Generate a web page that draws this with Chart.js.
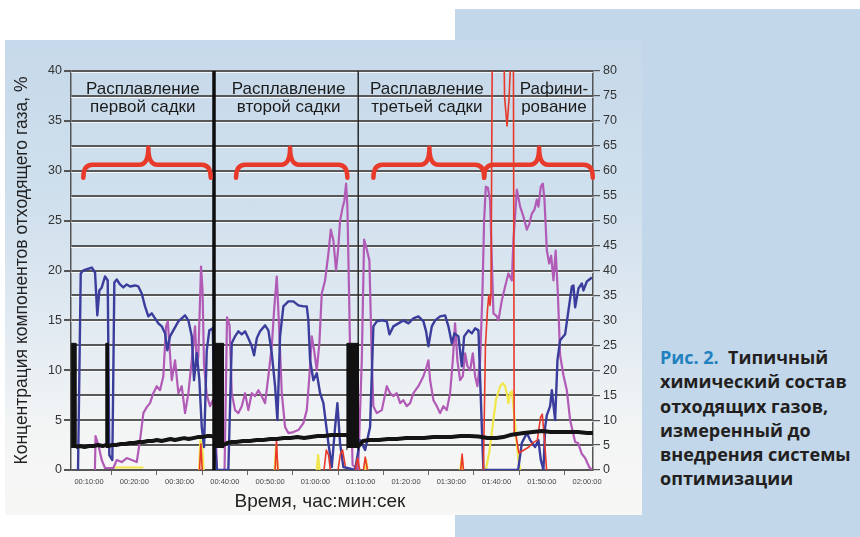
<!DOCTYPE html>
<html><head><meta charset="utf-8">
<script src="https://cdn.jsdelivr.net/npm/chart.js@4.4.1/dist/chart.umd.min.js"></script>
<style>
html,body{margin:0;padding:0;background:#fff;width:860px;height:537px;overflow:hidden;}
#blue{position:absolute;left:455px;top:9px;width:405px;height:528px;background:#c2d7ea;}
#panel{position:absolute;left:5px;top:40px;width:637px;height:475px;
 background:linear-gradient(to bottom,#c6d9ea 0%,#d0e0ed 35%,#e3ebf2 62%,#f3f5f5 82%,#f7f7f5 100%);}
#cap{position:absolute;left:660px;top:345px;font-family:'Open Sans',sans-serif;font-weight:700;font-size:18px;line-height:24.3px;color:#231f20;white-space:nowrap;}
#cap .n{color:#2281bf;}
#wrap{position:absolute;left:0;top:0;width:860px;height:537px;}
</style></head>
<body>
<div id="blue"></div><div id="panel"></div>
<div id="cap"><span class="n">Рис. 2.</span>&nbsp; Типичный<br>химический состав<br>отходящих газов,<br>измеренный до<br>внедрения системы<br>оптимизации</div>
<div id="wrap"><canvas id="c" width="860" height="537"></canvas></div>
<script>
// time in minutes, values in % (left axis)
const xTickValues = [10,15,20,25,30,35,40,45,50,55,60,65,70,75,80,85,90,95,100,105,110,115,120];
const rightTicks = [0,5,10,15,20,25,30,35,40,45,50,55,60,65,70,75,80];

const blue = [[7.3,0],[7.57,0],[8.17,19.7],[8.74,20.0],[10.6,20.3],[11.33,19.8],[11.83,15.5],[12.28,18.0],[12.81,18.3],[13.53,19.4],[14.13,19.0],[14.48,1.5],[15.15,1.0],[15.59,18.8],[16.12,19.1],[16.85,18.6],[17.58,18.3],[18.33,18.6],[19.06,18.4],[20.16,18.5],[20.89,18.4],[21.64,17.7],[22.37,16.4],[23.1,15.4],[23.85,15.7],[24.58,15.2],[25.31,14.7],[26.06,14.4],[26.79,13.7],[27.3,12.0],[27.89,13.4],[28.62,14.0],[29.73,14.9],[31.21,15.5],[31.94,15.0],[32.69,13.4],[33.19,9.0],[33.79,11.7],[34.37,9.0],[34.9,4.3],[35.4,2.3],[36.0,12.0],[36.57,14.0],[37.33,14.2],[37.94,2.0],[38.27,0],[40.77,0],[41.52,12.7],[42.25,13.4],[42.98,13.9],[43.73,13.6],[44.46,13.9],[45.19,13.2],[45.94,12.4],[46.45,11.5],[47.05,13.2],[47.77,13.9],[48.88,14.5],[49.61,14.0],[50.36,11.7],[51.09,8.4],[51.6,5.0],[52.19,13.4],[52.92,16.4],[54.03,16.9],[55.13,16.9],[56.23,16.5],[57.34,16.4],[58.09,16.4],[58.44,15.0],[58.82,11.0],[59.55,9.0],[60.3,9.7],[61.03,7.7],[61.76,6.7],[62.86,2.7],[63.61,0.3],[64.34,4.3],[64.85,6.7],[65.44,2.7],[66.17,0.3],[68.76,0],[69.86,3.0],[70.97,2.0],[72.07,4.3],[72.8,14.4],[73.55,14.9],[74.66,15.0],[75.76,14.9],[76.34,13.6],[77.22,14.4],[78.33,14.7],[79.43,15.0],[80.54,14.7],[81.64,15.2],[82.74,15.4],[83.85,14.9],[84.44,13.9],[84.95,12.4],[85.7,14.4],[86.43,15.0],[87.53,15.4],[88.64,15.5],[89.37,14.4],[90.12,12.7],[90.7,13.7],[91.58,13.4],[92.33,10.4],[92.84,13.4],[93.79,14.0],[94.54,13.7],[95.27,14.2],[96.0,14.0],[96.75,4.3],[97.1,0],[104.77,0],[105.58,2.7],[106.69,3.7],[107.42,3.0],[108.52,2.3],[109.25,3.0],[109.78,1.0],[110.36,0],[110.73,4.3],[111.11,5.5],[111.83,6.4],[112.21,8.0],[112.94,5.0],[113.45,11.0],[114.04,13.0],[115.14,13.6],[115.88,16.0],[116.63,18.4],[116.98,18.5],[117.36,16.3],[118.09,18.2],[118.84,18.7],[119.19,18.0],[119.94,18.9],[121.05,19.3]];

const magenta = [[11.3,0],[11.44,3.4],[12.05,2.5],[12.81,1.0],[13.53,0.2],[15.37,0.2],[16.12,1.0],[17.22,0.8],[18.33,1.2],[19.43,1.0],[20.54,0.8],[21.27,3.0],[22.0,5.7],[22.75,6.3],[23.47,6.7],[24.2,7.7],[24.96,8.4],[25.68,8.0],[26.41,9.4],[27.01,14.4],[27.4,14.9],[28.27,9.0],[29.0,11.0],[29.73,7.7],[30.48,8.4],[31.21,5.7],[31.94,7.7],[32.69,11.0],[33.42,14.4],[33.79,10.4],[34.14,11.4],[34.74,20.4],[35.07,18.0],[35.4,10.5],[36.0,7.5],[36.73,6.4],[37.33,7.0],[37.72,6.5],[38.27,0],[39.93,0],[40.48,15.3],[41.04,14.5],[41.52,7.7],[42.25,6.0],[42.98,5.7],[43.73,6.4],[44.46,7.7],[45.19,6.0],[45.94,7.7],[46.67,7.4],[47.4,8.0],[48.15,7.4],[48.88,6.7],[49.61,9.4],[50.36,12.4],[50.87,16.0],[51.46,19.4],[51.97,14.4],[52.57,7.7],[53.3,4.3],[54.03,3.7],[55.13,3.8],[56.23,4.0],[57.34,4.7],[58.09,6.0],[58.67,9.4],[59.2,13.4],[59.71,12.0],[60.3,10.0],[60.87,12.7],[61.4,17.7],[62.13,19.0],[62.86,21.7],[63.39,24.1],[63.97,23.0],[64.56,20.0],[65.07,22.4],[65.44,25.0],[66.04,26.4],[66.39,27.0],[66.77,28.7],[67.06,26.4],[67.43,17.7],[67.81,7.7],[68.21,0.5],[69.42,0],[70.24,11.0],[70.75,23.1],[71.35,22.1],[71.92,21.0],[72.45,11.0],[72.8,6.4],[73.55,5.7],[74.66,6.0],[75.76,8.4],[76.49,7.7],[77.22,7.4],[77.97,7.7],[78.7,6.7],[79.43,7.0],[80.17,6.4],[80.91,6.7],[81.64,7.7],[82.74,8.4],[83.85,9.4],[84.59,10.4],[84.95,11.0],[85.33,9.0],[86.06,7.0],[86.81,6.4],[87.53,5.7],[88.26,6.4],[89.0,6.0],[89.74,7.7],[90.34,11.0],[90.84,14.7],[91.35,11.0],[91.95,9.0],[92.55,9.4],[93.06,11.7],[93.57,10.4],[94.16,10.0],[94.76,11.7],[95.27,9.4],[95.78,8.4],[96.37,11.0],[96.88,17.7],[97.26,25.1],[97.63,28.4],[98.07,28.3],[98.58,27.0],[98.96,21.0],[99.31,15.7],[100.06,15.4],[100.42,15.0],[101.16,17.0],[101.89,18.4],[102.62,19.7],[103.38,19.0],[103.73,23.1],[104.48,28.1],[105.21,26.4],[105.94,25.4],[106.69,24.1],[107.26,24.7],[107.79,25.7],[108.37,26.1],[108.89,27.1],[109.25,26.4],[109.78,28.4],[110.22,28.7],[110.58,27.1],[111.11,22.0],[111.62,20.7],[112.06,21.5],[112.57,19.0],[113.05,22.0],[113.54,17.7],[114.04,11.5],[114.77,9.5],[115.52,8.0],[116.25,5.0],[116.85,3.8],[117.36,2.8],[118.02,2.7],[118.84,1.6],[119.57,1.2],[120.45,0.3],[121.11,0]];

const red = [[34.4,0],[34.7,2.6],[35.0,0],[35.0,null],[51.1,0],[51.4,3.0],[51.7,0],[51.7,null],[61.9,0],[62.4,2.0],[62.9,1.5],[63.3,0],[63.3,null],[65.0,0],[65.5,1.6],[66.0,2.0],[66.6,0.4],[66.6,null],[68.8,0],[69.3,1.2],[69.8,0],[69.8,null],[70.6,0],[71.0,1.3],[71.5,0],[71.5,null],[92.1,0],[92.4,1.6],[92.7,0],[92.7,null],[97.1,0],[97.55,12.5],[97.99,16.0],[98.28,17.5],[98.55,16.5],[98.77,17.5],[99.1,46],[101.55,46],[101.77,37.4],[102.32,34.5],[102.76,37.2],[103.2,42],[103.7,46],[103.9,3.7],[104.2,3.7],[104.94,1.7],[106.04,2.0],[107.15,2.3],[107.9,2.7],[109.0,3.0],[109.73,5.3],[110.1,5.6],[110.6,3.0],[111.05,0]];

const yellow = [[15.5,0.25],[22.0,0.25],[22.0,null],[34.3,0],[34.6,3.0],[35.0,2.4],[35.3,0],[35.3,null],[51.0,0],[51.3,2.4],[51.7,0],[51.7,null],[60.3,0],[60.6,1.5],[60.9,0],[60.9,null],[70.9,0],[71.2,1.0],[71.5,0],[71.5,null],[92.0,0],[92.3,1.2],[92.6,0],[92.6,null],[97.63,0],[98.36,1.7],[99.1,4.3],[99.85,7.0],[100.79,8.4],[101.39,8.7],[101.89,8.4],[102.4,7.4],[102.62,6.7],[103.0,7.7],[103.38,7.9],[103.73,6.4],[104.33,3.3],[104.84,1.0],[105.21,0]];

const black = [[7.1,2.3],[8,2.4],[9,2.3],[10,2.4],[11,2.4],[12,2.5],[13,2.4],[13.7,2.5],[14.3,2.4],[15,2.5],[16,2.5],[17,2.6],[18,2.6],[19,2.7],[20,2.7],[21,2.8],[22,2.8],[23,2.9],[24,2.9],[25,3.0],[26,2.9],[27,3.0],[28,3.1],[29,3.0],[30,3.1],[31,3.2],[32,3.1],[33,3.2],[34,3.3],[35,3.3],[36,3.4],[37,3.4],[37.8,3.3],[39.7,2.5],[40.5,2.7],[41.5,2.8],[42.5,2.8],[44,2.9],[45.5,2.9],[47,3.0],[48.5,3.0],[50,3.1],[51.5,3.1],[53,3.2],[54.5,3.2],[56,3.3],[57.5,3.2],[59,3.3],[60.5,3.4],[62,3.4],[63.5,3.5],[65,3.5],[66.9,3.5],[69.5,2.4],[70.5,2.9],[72,3.0],[74,3.0],[76,3.1],[78,3.1],[80,3.2],[82,3.2],[84,3.2],[86,3.3],[88,3.3],[90,3.3],[92,3.4],[94,3.4],[96,3.35],[98,3.2],[100,3.2],[101.5,3.3],[103,3.5],[104.5,3.6],[106,3.7],[108,3.8],[110,3.9],[112,3.8],[114,3.8],[116,3.8],[118,3.8],[120,3.7],[121.3,3.7]];

const blackBlocks = [[6.1,2.2],[6.1,12.7],[7.1,12.7],[7.1,2.2],[7.1,null],[13.7,2.3],[13.7,12.7],[14.25,12.7],[14.25,2.3],[14.25,null],[37.8,2.2],[37.8,12.7],[39.65,12.7],[39.65,2.2],[39.65,null],[66.95,2.0],[66.95,12.7],[69.5,12.7],[69.5,2.0]];

const divider1 = [[37.6,0],[37.6,40]];
const divider2 = [[69.45,0],[69.45,40]];

const phaseNames = [['Расплавление','первой садки'],['Расплавление','второй садки'],['Расплавление','третьей садки'],['Рафини-','рование']];
const phaseCenter = [21.88, 54.07, 84.62, 112.67];
const labelRows = [37.74, 35.84];
const braceFrom = [8.74, 42.47, 72.8, 97.26];
const braceTo = [36.88, 67.06, 97.26, 121.25];
const braceTip = [23.1, 54.4, 85.17, 109.4];
const braceEndLevel = 29.3, braceBarLevel = 30.6, braceTipLevel = 32.3;
const xTitle = 'Время, час:мин:сек';
const xTitleCenter = 61.0;

const FONT = "'Liberation Sans', Arial, sans-serif";
const pts = a => a.map(p => ({x:p[0], y:p[1]}));
const fmt = v => { const h = Math.floor(v/60), m = v%60; return String(h).padStart(2,'0')+':'+String(m).padStart(2,'0')+':00'; };

const overlay = {
  id:'overlay',
  beforeDatasetsDraw(chart){
    const {ctx, chartArea:a, scales:{y}} = chart;
    ctx.save(); ctx.strokeStyle='rgba(255,255,255,0.75)'; ctx.lineWidth=1;
    for(let v=2.5; v<=40; v+=2.5){ const py=Math.round(y.getPixelForValue(v))+1.5; ctx.beginPath(); ctx.moveTo(a.left,py); ctx.lineTo(a.right,py); ctx.stroke(); }
    ctx.restore();
  },
  afterDatasetsDraw(chart){
    const {ctx, scales:{x,y}} = chart;
    ctx.save();
    ctx.font = '17px ' + FONT; ctx.fillStyle='#1b1b1b'; ctx.textAlign='center'; ctx.textBaseline='alphabetic';
    phaseNames.forEach((rows,i)=>rows.forEach((t,j)=>ctx.fillText(t, x.getPixelForValue(phaseCenter[i]), y.getPixelForValue(labelRows[j]))));
    ctx.strokeStyle='#e83a2b'; ctx.lineWidth=4.5; ctx.lineCap='round'; ctx.lineJoin='round';
    const yE=y.getPixelForValue(braceEndLevel), yB=y.getPixelForValue(braceBarLevel), yT=y.getPixelForValue(braceTipLevel);
    const r=9;
    for(let i=0;i<braceFrom.length;i++){
      const x0=x.getPixelForValue(braceFrom[i]), x1=Math.min(x.getPixelForValue(braceTo[i]), chart.chartArea.right), xm=x.getPixelForValue(braceTip[i]);
      ctx.beginPath();
      ctx.moveTo(x0,yE);
      ctx.quadraticCurveTo(x0,yB,x0+r,yB);
      ctx.lineTo(xm-r,yB);
      ctx.quadraticCurveTo(xm,yB,xm,yT);
      ctx.quadraticCurveTo(xm,yB,xm+r,yB);
      ctx.lineTo(x1-r,yB);
      ctx.quadraticCurveTo(x1,yB,x1,yE);
      ctx.stroke();
    }
    // x axis title
    ctx.font = '19px ' + FONT; ctx.fillStyle = '#222'; ctx.textAlign = 'center'; ctx.textBaseline = 'alphabetic';
    ctx.fillText(xTitle, x.getPixelForValue(xTitleCenter), x.bottom - 4);
    ctx.restore();
  }
};

const line = (label, data, color, w, extra) => Object.assign({label, data: pts(data), borderColor: color, backgroundColor: color, borderWidth: w, pointRadius: 0, tension: 0, spanGaps: false, fill: false, yAxisID: 'y', borderJoinStyle: 'round'}, extra || {});

new Chart(document.getElementById('c'), {
  type: 'line',
  data: { datasets: [
    line('blocks', blackBlocks, '#111', 1, {fill: {value: 2.2}, backgroundColor: '#111'}),
    line('black', black, '#141414', 4),
    line('divider1', divider1, '#0d0d0d', 3.5),
    line('red', red, '#e8392a', 1.6),
    line('blue', blue, '#3b3d9c', 2.4),
    line('magenta', magenta, '#b15ab6', 2.2),
    line('yellow', yellow, '#f1e64a', 2.2),
    line('divider2', divider2, '#2a2a2a', 1.5)
  ]},
  options: {
    responsive: false, animation: false, devicePixelRatio: 1,
    layout: { padding: { left: 0, right: 237, top: 71, bottom: 26 } },
    plugins: { legend: { display: false }, tooltip: { enabled: false } },
    scales: {
      x: {
        type: 'linear', min: 6.02, max: 121.3,
        afterBuildTicks: s => { s.ticks = xTickValues.map(v => ({value: v})); },
        ticks: { autoSkip: false, maxRotation: 0, minRotation: 0, padding: 2, color: '#444', font: {size: 7.5, family: FONT}, callback: v => v % 10 === 0 ? fmt(v) : '' },
        grid: { drawOnChartArea: false, drawTicks: true, tickLength: 5, lineWidth: 1, tickColor: c => (c.tick && c.tick.value % 10 !== 0) ? '#666' : 'rgba(0,0,0,0)' },
        border: { display: true, color: '#555', width: 1.5 },
        title: { display: false },
        afterFit: s => { s.height = 41; }
      },
      y: {
        type: 'linear', position: 'left', min: 0, max: 40,
        ticks: { stepSize: 2.5, padding: 2, color: '#333', font: {size: 12.5, family: FONT}, callback: v => v % 5 === 0 ? v : '' },
        grid: { color: '#585858', lineWidth: 2, tickLength: 7, tickColor: c => (c.tick && c.tick.value % 5 === 0) ? '#555' : 'rgba(0,0,0,0)' },
        border: { display: true, color: '#555', width: 1.5 },
        title: { display: true, text: 'Концентрация компонентов отходящего газа, %', color: '#222', font: {size: 17.5, family: FONT}, padding: {top: 12, bottom: 0} },
        afterFit: s => { s.width = 71; }
      },
      y2: {
        type: 'linear', position: 'right', min: 0, max: 80,
        afterBuildTicks: s => { s.ticks = rightTicks.map(v => ({value: v})); },
        ticks: { padding: 3, color: '#333', font: {size: 12.5, family: FONT} },
        grid: { drawOnChartArea: false, tickLength: 7, tickColor: '#555', lineWidth: 1.2 },
        border: { display: true, color: '#555', width: 1.5 },
        afterFit: s => { s.width = 30; }
      }
    }
  },
  plugins: [overlay]
});
</script>
</body></html>
